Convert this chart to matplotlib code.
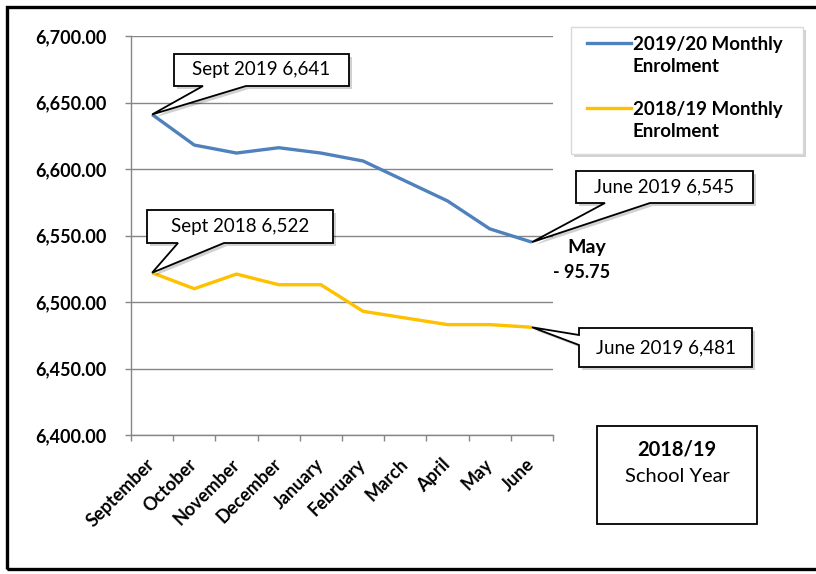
import matplotlib
matplotlib.use('Agg')
import matplotlib.pyplot as plt
from matplotlib.patches import Polygon, Rectangle
from matplotlib.lines import Line2D

plt.rcParams['font.family'] = ['Lato', 'DejaVu Sans']

# data
months = ['September', 'October', 'November', 'December', 'January',
          'February', 'March', 'April', 'May', 'June']
enrol_1920 = [6641, 6618, 6612, 6616, 6612, 6606, 6591, 6576, 6555, 6545]
enrol_1819 = [6522, 6510, 6521, 6513, 6513, 6493, 6488, 6483, 6483, 6481]
yticks = [6400, 6450, 6500, 6550, 6600, 6650, 6700]

blue = '#4f81bd'
gold = '#ffc000'
grey = '#868686'

W, H = 816, 574
fig = plt.figure(figsize=(W / 100, H / 100), dpi=100)

def fx(px):
    return px / W

def fy(py):
    return 1 - py / H

ax = fig.add_axes([fx(131), fy(435), fx(553) - fx(131), (435 - 36) / H])
x = list(range(len(months)))
ax.plot(x, enrol_1920, color=blue, lw=2.4, solid_capstyle='butt', zorder=3)
ax.plot(x, enrol_1819, color=gold, lw=2.4, solid_capstyle='butt', zorder=3)

ax.set_xlim(-0.5, len(months) - 0.5)
ax.set_ylim(yticks[0], yticks[-1])
ax.set_yticks(yticks)
ax.set_yticklabels(['{:,.2f}'.format(v) for v in yticks], fontsize=13, fontweight='bold')
ax.yaxis.grid(True, color=grey, lw=1)
ax.set_axisbelow(True)
ax.tick_params(axis='y', length=4.5, width=1, color=grey, pad=13)

# tick marks between categories, labels at the centres
ax.set_xticks([i - 0.5 for i in range(len(months) + 1)])
ax.set_xticklabels([])
ax.set_xticks(x, minor=True)
ax.set_xticklabels(months, minor=True, rotation=45, ha='right', va='center',
                   rotation_mode='anchor', fontsize=13, fontweight='bold')
ax.tick_params(axis='x', which='major', length=4, width=1, color=grey)
ax.tick_params(axis='x', which='minor', length=0, pad=19)

for s in ['top', 'right']:
    ax.spines[s].set_visible(False)
for s in ['left', 'bottom']:
    ax.spines[s].set_color(grey)
    ax.spines[s].set_linewidth(1)

fig.canvas.draw()

def to_px(i, v):
    dx, dy = ax.transData.transform((i, v))
    return dx, H - dy

def callout(text, box, base, i, v, side='bottom'):
    x0, y0, x1, y1 = box
    tx, ty = to_px(i, v)
    if side == 'bottom':
        pts = [(x0, y0), (x1, y0), (x1, y1), (base[1], y1), (tx, ty),
               (base[0], y1), (x0, y1)]
    else:
        pts = [(x0, y0), (x1, y0), (x1, y1), (x0, y1), (x0, base[1]),
               (tx, ty), (x0, base[0])]
    shadow = [(fx(px + 3), fy(py + 3)) for px, py in pts]
    fig.patches.append(Polygon(shadow, closed=True, transform=fig.transFigure,
                               facecolor='#000000', alpha=0.18, lw=0, zorder=5))
    fig.patches.append(Polygon([(fx(px), fy(py)) for px, py in pts], closed=True,
                               transform=fig.transFigure, facecolor='white',
                               edgecolor='black', lw=1.3, zorder=6))
    fig.text(fx((x0 + x1) / 2), fy((y0 + y1) / 2), text, ha='center', va='center',
             fontsize=13.5, zorder=7)

callout('Sept 2019 6,641', (174, 54, 349, 86), (203, 246), 0, enrol_1920[0])
callout('Sept 2018 6,522', (147, 210, 333, 243), (178, 224), 0, enrol_1819[0])
callout('June 2019 6,545', (576, 171, 753, 203), (605, 650), 9, enrol_1920[9])
callout('June 2019 6,481', (579, 328, 752, 367), (335, 345), 9, enrol_1819[9], side='left')

fig.text(fx(587), fy(247), 'May', ha='center', va='center', fontsize=14, fontweight='bold')
fig.text(fx(553), fy(273), '- 95.75', ha='left', va='center', fontsize=13, fontweight='bold')

# legend box
fig.patches.append(Rectangle((fx(574), fy(157)), fx(803) - fx(571), (154 - 27) / H,
                             transform=fig.transFigure, facecolor='#000000',
                             alpha=0.18, lw=0, zorder=5))
fig.patches.append(Rectangle((fx(571), fy(154)), fx(803) - fx(571), (154 - 27) / H,
                             transform=fig.transFigure, facecolor='white',
                             edgecolor='#d9d9d9', lw=1, zorder=6))
for col, lab, yl in [(blue, '2019/20 Monthly\nEnrolment', 43),
                     (gold, '2018/19 Monthly\nEnrolment', 108)]:
    fig.lines.append(Line2D([fx(587), fx(631)], [fy(yl), fy(yl)], color=col, lw=2.4,
                            transform=fig.transFigure, zorder=7))
    fig.text(fx(633), fy(yl + 12.5), lab, ha='left', va='center', fontsize=13.5,
             fontweight='bold', linespacing=1.35, zorder=7)

# school year box
fig.patches.append(Rectangle((fx(597), fy(524)), fx(757) - fx(597), (524 - 426) / H,
                             transform=fig.transFigure, facecolor='white',
                             edgecolor='black', lw=1.3, zorder=6))
fig.text(fx(677), fy(449), '2018/19', ha='center', va='center', fontsize=14.5,
         fontweight='bold', zorder=7)
fig.text(fx(677), fy(477), 'School Year', ha='center', va='center', fontsize=14.5, zorder=7)

# outer border
fig.patches.append(Rectangle((fx(7), fy(569)), fx(830) - fx(7), (569 - 7) / H,
                             transform=fig.transFigure, facecolor='none',
                             edgecolor='black', lw=2.4, zorder=8, clip_on=False))

fig.savefig('out.png', dpi=100)
